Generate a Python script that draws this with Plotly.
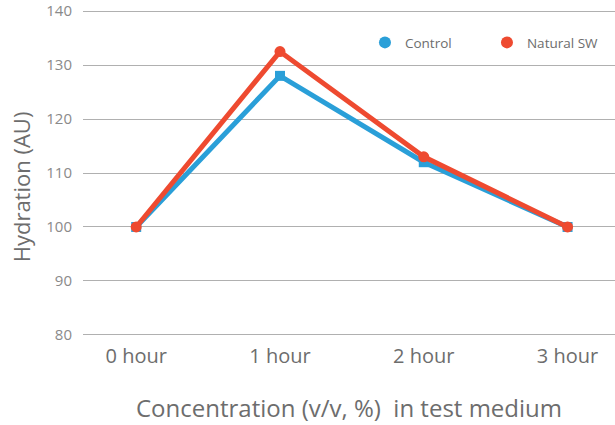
import plotly.graph_objects as go

categories = ["0 hour", "1 hour", "2 hour", "3 hour"]
control = [100, 128, 112, 100]
natural_sw = [100, 132.5, 113, 100]
y_ticks = [80, 90, 100, 110, 120, 130, 140]

BLUE = "#2a9fd8"
RED = "#ee4a30"
xs = list(range(len(categories)))

fig = go.Figure()
fig.add_trace(go.Scatter(
    x=xs, y=control, name="Control", mode="lines+markers", showlegend=False,
    line=dict(color=BLUE, width=5), marker=dict(symbol="square", size=10, color=BLUE),
))
fig.add_trace(go.Scatter(
    x=xs, y=natural_sw, name="Natural SW", mode="lines+markers", showlegend=False,
    line=dict(color=RED, width=5), marker=dict(symbol="circle", size=11, color=RED),
))
# legend entries (circle markers only)
for name, col in [("Control", BLUE), ("Natural SW", RED)]:
    fig.add_trace(go.Scatter(
        x=[None], y=[None], name=name, mode="markers",
        marker=dict(symbol="circle", size=15, color=col),
    ))

fig.add_annotation(
    text="Hydration (AU)", textangle=-90, showarrow=False,
    xref="paper", x=-0.115, xanchor="center",
    yref="y", y=107.5, yanchor="middle",
    font=dict(size=22, color="#6d6d6d"),
)

fig.update_layout(
    width=615, height=425,
    margin=dict(l=83, r=0, t=10, b=89),
    paper_bgcolor="white", plot_bgcolor="white",
    font=dict(family="Open Sans, sans-serif", color="#6d6d6d"),
    showlegend=True,
    legend=dict(orientation="h", x=0.53, y=0.9, xanchor="left", yanchor="middle",
                font=dict(size=13.5, color="#6d6d6d"), itemsizing="constant",
                bgcolor="rgba(0,0,0,0)", traceorder="normal", entrywidth=77),
    xaxis=dict(
        tickmode="array", tickvals=xs, ticktext=categories,
        range=[-0.37, 3.33], showgrid=False, zeroline=False, showline=False,
        tickfont=dict(size=20, color="#6d6d6d"), ticks="", ticklabelstandoff=6,
        title=dict(text="Concentration (v/v, %)  in test medium",
                   font=dict(size=24, color="#6d6d6d"), standoff=32),
    ),
    yaxis=dict(
        range=[79.8, 140.2], tickvals=y_ticks, showgrid=True, gridcolor="#b0b0b0", gridwidth=1.4,
        zeroline=False, showline=False, ticks="", tickfont=dict(size=15, color="#8a8a8a"),
        ticklabelstandoff=10,
    ),
)
fig.write_html("out.html", config={"displayModeBar": False},
               post_script="document.body.style.margin='0';")
